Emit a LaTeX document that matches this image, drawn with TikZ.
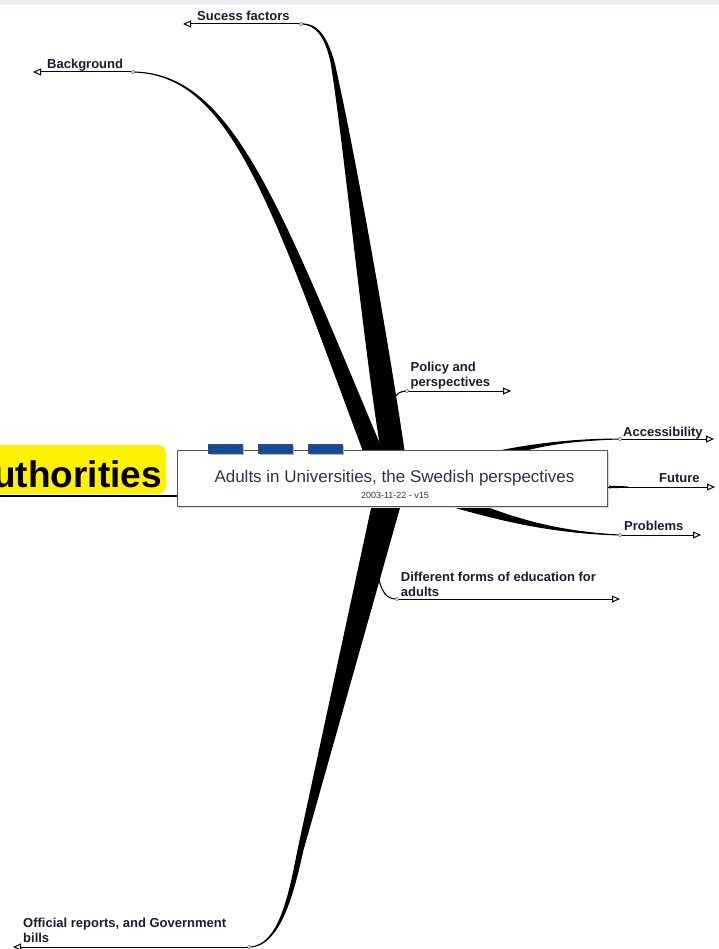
\documentclass[tikz,border=0pt]{standalone}
\usepackage{fontspec}
\setmainfont{Liberation Sans}
\usetikzlibrary{arrows.meta,shadows}
\definecolor{labelink}{HTML}{1A1A33}
\definecolor{titleink}{HTML}{30304A}
\definecolor{tabblue}{HTML}{0D4E9E}
\definecolor{bandgrey}{HTML}{ECEFF4}
\definecolor{frame}{HTML}{555555}
\tikzset{
  topic/.style={inner sep=0pt, anchor=base west, align=left, text=labelink,
    font=\bfseries\fontsize{13}{15}\selectfont},
  stem/.style={line width=1pt, -{Triangle[open,length=8pt,width=7pt]}},
  twig/.style={line width=1.1pt},
  wedge/.style={fill=black, draw=black, line width=1pt, line join=round},
  joint/.style={circle, draw=black!60, fill=white, line width=0.5pt, inner sep=0pt, minimum size=3.5pt},
  mainbox/.style={draw=frame, fill=white, line width=1pt, minimum width=430pt, minimum height=56pt,
    inner sep=0pt, drop shadow={shadow xshift=1.5pt, shadow yshift=-1.5pt, fill=black!15, opacity=1}},
  tabbox/.style={draw=black!70, fill=tabblue, line width=0.6pt, minimum width=34pt, minimum height=9pt,
    inner sep=0pt, drop shadow={shadow xshift=1.5pt, shadow yshift=-1.5pt, fill=black!30, opacity=1}},
}
\begin{document}
\begin{tikzpicture}[x=1pt,y=-1pt]
\useasboundingbox (0,0) rectangle (719,949);
\fill[bandgrey] (0,0) rectangle (719,5);

\coordinate (sf-joint) at (301,24);
\coordinate (sf-tip) at (183,24);
\coordinate (bg-joint) at (133,72);
\coordinate (bg-tip) at (33,72);
\coordinate (po-joint) at (407,391);
\coordinate (po-tip) at (511,391);
\coordinate (ac-joint) at (620,439);
\coordinate (ac-tip) at (714,439);
\coordinate (fu-tip) at (715,487);
\coordinate (pr-joint) at (620,535);
\coordinate (pr-tip) at (701,535);
\coordinate (df-joint) at (397,599);
\coordinate (df-tip) at (620,599);
\coordinate (of-joint) at (249,947);
\coordinate (of-tip) at (13,947);

% tapered branches
\draw[wedge] (bg-joint) .. controls (230,74) and (270,200) .. (363,450) -- (372,478) -- (390,478)
  -- (382,450) .. controls (277,200) and (231,73) .. (bg-joint);
\draw[wedge] (sf-joint) .. controls (318,24) and (326,40) .. (331,62) .. controls (345,150) and (362,330) .. (381,450)
  -- (386,478) -- (406,478) -- (404,450) .. controls (386,330) and (354,150) .. (334,62)
  .. controls (327,38) and (318,23) .. (sf-joint);
\draw[wedge] (of-joint) .. controls (280,947) and (290,890) .. (298,850) -- (372,506) -- (378,478) -- (396,478)
  -- (400,506) -- (303,850) .. controls (295,885) and (282,947) .. (of-joint);
\draw[wedge] (450,506) .. controls (500,520) and (550,533) .. (pr-joint) .. controls (560,532) and (520,520) .. (483,506)
  -- (480,490) -- (455,490) -- cycle;
\draw[wedge] (490,453) .. controls (530,444) and (575,439) .. (ac-joint) .. controls (580,440) and (545,444) .. (520,452)
  -- (515,462) -- (490,462) -- cycle;
\fill (607,485.6) -- (628,486.4) -- (628,487.6) -- (607,488.4) -- cycle;

% central topic
\fill[yellow, rounded corners=8pt] (-20,445) rectangle (166,494);
\node[inner sep=0pt, anchor=base west, font=\bfseries\fontsize{37}{40}\selectfont] (auth) at (-7,487) {uthorities};
\node[mainbox] (centre) at (392.5,478) {};
\draw[line width=1.2pt] (0,496) -- (centre.west |- 0,496);
\foreach \x/\n in {225/1,275/2,325/3}
  \node[tabbox] (tab\n) at (\x,449) {};
\node[inner sep=0pt, anchor=base, text=titleink, font=\fontsize{17}{20}\selectfont] (title) at (394.5,482.7)
  {Adults in Universities, the Swedish perspectives};
\node[inner sep=0pt, anchor=base, text=titleink, font=\fontsize{9}{10}\selectfont] (date) at (395,498.3)
  {2003-11-22 - v15};

% thin branches and stems
\draw[twig] (393,401) .. controls (396,393) and (401,391) .. (po-joint);
\draw[twig] (377,570) .. controls (381,594) and (387,599) .. (df-joint);
\draw[stem] (sf-joint) -- (sf-tip);
\draw[stem] (bg-joint) -- (bg-tip);
\draw[stem] (po-joint) -- (po-tip);
\draw[stem] (ac-joint) -- (ac-tip);
\draw[stem] (centre.east |- fu-tip) -- (fu-tip);
\draw[stem] (pr-joint) -- (pr-tip);
\draw[stem] (df-joint) -- (df-tip);
\draw[stem] (of-joint) -- (of-tip);
\foreach \j in {sf,bg,po,ac,pr,df,of}
  \node[joint] (\j-dot) at (\j-joint) {};

\node[topic] (sf-label) at (197,20.5) {Sucess factors};
\node[topic] (bg-label) at (47,68.3) {Background};
\node[topic] (po-label) at (410.5,386.2) {Policy and\\perspectives};
\node[topic] (ac-label) at (623,436) {Accessibility};
\node[topic] (fu-label) at (659,482.7) {Future};
\node[topic] (pr-label) at (624,530) {Problems};
\node[topic] (df-label) at (400.7,596) {Different forms of education for\\adults};
\node[topic] (of-label) at (23,942.5) {Official reports, and Government\\bills};
\end{tikzpicture}
\end{document}
